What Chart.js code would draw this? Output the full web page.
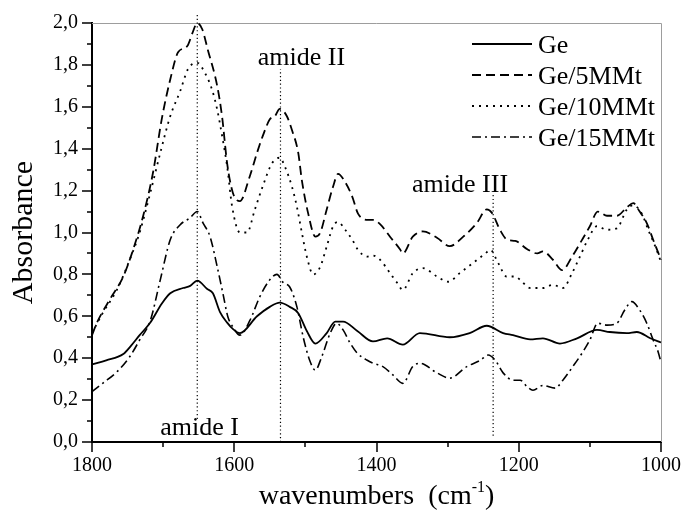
<!DOCTYPE html>
<html>
<head>
<meta charset="utf-8">
<title>Absorbance spectra</title>
<script src="https://cdn.jsdelivr.net/npm/chart.js@4.4.1/dist/chart.umd.min.js"></script>
<style>
  html, body { margin: 0; padding: 0; background: #fff; }
  #wrap { width: 681px; height: 518px; position: relative; }
</style>
</head>
<body>
<div id="wrap"><canvas id="spectra"></canvas></div>
<script>
// Ge (gelatin film)
const geWn  = [1800, 1780, 1756, 1745, 1733, 1718, 1702, 1690, 1672, 1662, 1652, 1638, 1630, 1620, 1610, 1602, 1592, 1568, 1550, 1536, 1522, 1510, 1498, 1486, 1470, 1458, 1447, 1427, 1405, 1385, 1363, 1339, 1297, 1269, 1245, 1222, 1208, 1184, 1166, 1142, 1118, 1090, 1072, 1048, 1034, 1015, 1000];
const geAbs = [0.37, 0.39, 0.42, 0.46, 0.51, 0.57, 0.66, 0.71, 0.735, 0.745, 0.77, 0.73, 0.71, 0.62, 0.57, 0.54, 0.52, 0.60, 0.645, 0.665, 0.645, 0.615, 0.53, 0.47, 0.52, 0.575, 0.575, 0.53, 0.48, 0.495, 0.465, 0.52, 0.50, 0.52, 0.555, 0.52, 0.51, 0.49, 0.495, 0.47, 0.495, 0.535, 0.525, 0.52, 0.525, 0.495, 0.475];

// Ge/5MMt
const ge5Wn  = [1800, 1793, 1775, 1756, 1742, 1728, 1714, 1702, 1690, 1679, 1666, 1659, 1652, 1645, 1637, 1624, 1617, 1610, 1602, 1592, 1578, 1568, 1560, 1550, 1543, 1536, 1526, 1519, 1510, 1505, 1496, 1486, 1479, 1470, 1461, 1454, 1444, 1434, 1426, 1412, 1405, 1395, 1381, 1367, 1363, 1349, 1335, 1315, 1297, 1278, 1259, 1245, 1238, 1226, 1216, 1205, 1188, 1174, 1166, 1152, 1139, 1125, 1111, 1100, 1089, 1076, 1062, 1048, 1039, 1030, 1020, 1011, 1000];
const ge5Abs = [0.51, 0.57, 0.68, 0.79, 0.92, 1.08, 1.29, 1.54, 1.73, 1.86, 1.89, 1.95, 2.0, 1.97, 1.87, 1.70, 1.55, 1.33, 1.19, 1.15, 1.27, 1.38, 1.46, 1.54, 1.555, 1.59, 1.555, 1.49, 1.38, 1.25, 1.09, 0.98, 1.0, 1.11, 1.22, 1.28, 1.24, 1.17, 1.09, 1.06, 1.06, 1.04, 0.98, 0.92, 0.90, 0.98, 1.005, 0.975, 0.935, 0.98, 1.045, 1.11, 1.095, 1.01, 0.965, 0.96, 0.92, 0.90, 0.91, 0.87, 0.82, 0.885, 0.965, 1.03, 1.10, 1.08, 1.08, 1.12, 1.14, 1.10, 1.045, 0.965, 0.87];

// Ge/10MMt
const ge10Wn  = [1800, 1785, 1765, 1747, 1733, 1718, 1704, 1690, 1676, 1665, 1652, 1641, 1631, 1624, 1617, 1610, 1603, 1592, 1582, 1571, 1560, 1547, 1536, 1529, 1519, 1512, 1505, 1498, 1489, 1479, 1470, 1461, 1454, 1444, 1434, 1426, 1413, 1405, 1395, 1381, 1371, 1363, 1349, 1335, 1315, 1299, 1283, 1264, 1247, 1240, 1229, 1217, 1205, 1198, 1184, 1166, 1152, 1138, 1125, 1114, 1103, 1090, 1076, 1062, 1048, 1039, 1027, 1018, 1008, 1000];
const ge10Abs = [0.52, 0.615, 0.726, 0.87, 1.0, 1.19, 1.38, 1.555, 1.675, 1.78, 1.81, 1.76, 1.68, 1.587, 1.46, 1.316, 1.124, 1.0, 1.0, 1.11, 1.22, 1.33, 1.357, 1.316, 1.22, 1.124, 1.0, 0.885, 0.80, 0.837, 0.933, 1.03, 1.05, 1.013, 0.965, 0.917, 0.885, 0.89, 0.87, 0.806, 0.76, 0.726, 0.806, 0.83, 0.79, 0.765, 0.806, 0.855, 0.90, 0.917, 0.855, 0.79, 0.79, 0.774, 0.735, 0.735, 0.75, 0.735, 0.806, 0.885, 0.965, 1.03, 1.013, 1.02, 1.11, 1.13, 1.09, 1.013, 0.933, 0.86];

// Ge/15MMt
const ge15Wn  = [1800, 1785, 1765, 1747, 1733, 1718, 1704, 1690, 1676, 1662, 1652, 1644, 1634, 1624, 1616, 1609, 1602, 1592, 1578, 1564, 1550, 1540, 1531, 1522, 1512, 1503, 1494, 1486, 1477, 1465, 1456, 1447, 1437, 1427, 1413, 1405, 1391, 1377, 1363, 1349, 1339, 1315, 1297, 1273, 1254, 1243, 1233, 1222, 1208, 1198, 1188, 1180, 1166, 1149, 1138, 1124, 1111, 1100, 1089, 1076, 1062, 1051, 1041, 1030, 1020, 1011, 1004, 1000];
const ge15Abs = [0.24, 0.28, 0.335, 0.407, 0.487, 0.58, 0.774, 0.965, 1.037, 1.07, 1.10, 1.046, 0.98, 0.837, 0.71, 0.598, 0.55, 0.51, 0.58, 0.694, 0.774, 0.80, 0.76, 0.74, 0.646, 0.50, 0.39, 0.343, 0.407, 0.52, 0.567, 0.535, 0.472, 0.424, 0.39, 0.376, 0.36, 0.32, 0.28, 0.36, 0.376, 0.33, 0.305, 0.36, 0.39, 0.415, 0.39, 0.33, 0.295, 0.295, 0.263, 0.247, 0.27, 0.257, 0.295, 0.36, 0.424, 0.487, 0.567, 0.558, 0.567, 0.63, 0.67, 0.63, 0.567, 0.487, 0.43, 0.38];

const seriesLabels = ['Ge', 'Ge/5MMt', 'Ge/10MMt', 'Ge/15MMt'];

// band markers: position, vertical extent and label anchor
const bandNames  = ['amide I', 'amide II', 'amide III'];
const bandWn     = [1652, 1535, 1236];
const bandTop    = [2.04, 1.78, 1.18];
const bandBottom = [0.11, 0.0, 0.03];
const bandTextWn  = [1704, 1567, 1350];
const bandTextAbs = [0.032, 1.80, 1.195];

// axis ticks
const xMajorTicks = [1800, 1600, 1400, 1200, 1000];
const xMinorTicks = [1700, 1500, 1300, 1100];
const yMajorTicks = [0, 0.2, 0.4, 0.6, 0.8, 1.0, 1.2, 1.4, 1.6, 1.8, 2.0];
const yMinorTicks = [0.1, 0.3, 0.5, 0.7, 0.9, 1.1, 1.3, 1.5, 1.7, 1.9];

const SERIF = '"Liberation Serif", "Times New Roman", serif';

function pts(wn, ab) {
  return wn.map((w, i) => ({ x: w, y: ab[i] }));
}

const lineStyles = [
  { dash: [], width: 1.8 },
  { dash: [9, 5], width: 1.8 },
  { dash: [2, 5], width: 1.8 },
  { dash: [9, 4, 2, 4], width: 1.6 }
];

const spectra = [
  pts(geWn, geAbs), pts(ge5Wn, ge5Abs), pts(ge10Wn, ge10Abs), pts(ge15Wn, ge15Abs)
].map((data, i) => ({
  label: seriesLabels[i],
  data: data,
  borderColor: '#000',
  borderWidth: lineStyles[i].width,
  borderDash: lineStyles[i].dash,
  borderCapStyle: 'butt',
  pointRadius: 0,
  fill: false,
  cubicInterpolationMode: 'monotone',
  clip: false
}));

const markers = bandWn.map((w, i) => ({
  label: '',
  isMarker: true,
  data: [{ x: w, y: bandBottom[i] }, { x: w, y: bandTop[i] }],
  borderColor: '#000',
  borderWidth: 1.2,
  borderDash: [1.2, 2.6],
  pointRadius: 0,
  fill: false,
  clip: false
}));

// grey top/right frame, outward ticks, titles, band labels and legend
const decorations = {
  id: 'decorations',
  beforeDatasetsDraw(chart) {
    const { ctx, chartArea: a } = chart;
    ctx.save();
    ctx.strokeStyle = '#9d9d9d';
    ctx.lineWidth = 1;
    ctx.beginPath();
    ctx.moveTo(a.left, a.top + 0.5);
    ctx.lineTo(a.right + 0.5, a.top + 0.5);
    ctx.lineTo(a.right + 0.5, a.bottom);
    ctx.stroke();
    ctx.restore();
  },
  afterDraw(chart) {
    const { ctx, chartArea: a, scales: { x, y } } = chart;
    ctx.save();

    // tick marks
    ctx.strokeStyle = '#000';
    ctx.lineWidth = 1.5;
    ctx.beginPath();
    xMajorTicks.forEach(v => { const px = Math.round(x.getPixelForValue(v)); ctx.moveTo(px, a.bottom); ctx.lineTo(px, a.bottom + 10); });
    xMinorTicks.forEach(v => { const px = Math.round(x.getPixelForValue(v)); ctx.moveTo(px, a.bottom); ctx.lineTo(px, a.bottom + 5); });
    yMajorTicks.forEach(v => { const py = Math.round(y.getPixelForValue(v)); ctx.moveTo(a.left, py); ctx.lineTo(a.left - 10, py); });
    yMinorTicks.forEach(v => { const py = Math.round(y.getPixelForValue(v)); ctx.moveTo(a.left, py); ctx.lineTo(a.left - 5, py); });
    ctx.stroke();

    ctx.fillStyle = '#000';

    // band labels
    ctx.font = '26px ' + SERIF;
    ctx.textAlign = 'left';
    ctx.textBaseline = 'alphabetic';
    bandNames.forEach((t, i) => {
      ctx.fillText(t, x.getPixelForValue(bandTextWn[i]), y.getPixelForValue(bandTextAbs[i]));
    });

    // x axis title with superscript
    const main = 'wavenumbers  (cm';
    const sup = '-1';
    ctx.font = '28px ' + SERIF;
    const wMain = ctx.measureText(main).width;
    const wClose = ctx.measureText(')').width;
    ctx.font = '16px ' + SERIF;
    const wSup = ctx.measureText(sup).width;
    let tx = (a.left + a.right) / 2 - (wMain + wSup + wClose) / 2;
    const base = 504;
    ctx.font = '28px ' + SERIF;
    ctx.fillText(main, tx, base);
    tx += wMain;
    ctx.font = '16px ' + SERIF;
    ctx.fillText(sup, tx, base - 12);
    tx += wSup;
    ctx.font = '28px ' + SERIF;
    ctx.fillText(')', tx, base);

    // y axis title
    ctx.save();
    ctx.translate(32, (a.top + a.bottom) / 2);
    ctx.rotate(-Math.PI / 2);
    ctx.font = '30px ' + SERIF;
    ctx.textAlign = 'center';
    ctx.fillText('Absorbance', 0, 0);
    ctx.restore();

    // legend
    const legendX = 472, legendLen = 60, legendTop = 44, legendStep = 31;
    chart.data.datasets.filter(d => !d.isMarker).forEach((d, i) => {
      const ly = legendTop + i * legendStep;
      ctx.save();
      ctx.strokeStyle = d.borderColor;
      ctx.lineWidth = d.borderWidth;
      ctx.setLineDash(d.borderDash);
      ctx.beginPath();
      ctx.moveTo(legendX, ly);
      ctx.lineTo(legendX + legendLen, ly);
      ctx.stroke();
      ctx.restore();
      ctx.font = '26px ' + SERIF;
      ctx.textAlign = 'left';
      ctx.fillText(d.label, legendX + legendLen + 6, ly + 9);
    });

    ctx.restore();
  }
};

new Chart(document.getElementById('spectra'), {
  type: 'line',
  data: { datasets: spectra.concat(markers) },
  options: {
    responsive: true,
    maintainAspectRatio: false,
    animation: false,
    events: [],
    layout: { padding: { top: 23, right: 20, left: 0, bottom: 0 } },
    plugins: {
      legend: { display: false },
      tooltip: { enabled: false }
    },
    scales: {
      x: {
        type: 'linear',
        reverse: true,
        min: 1000,
        max: 1800,
        afterBuildTicks: s => { s.ticks = xMajorTicks.map(v => ({ value: v })); },
        afterFit: s => { s.height = 76; s.paddingLeft = 0; s.paddingRight = 0; },
        grid: { display: false, drawTicks: false },
        border: { display: true, color: '#000', width: 2 },
        ticks: {
          color: '#000',
          padding: 12,
          maxRotation: 0,
          font: { family: SERIF, size: 20 },
          callback: v => String(v)
        }
      },
      y: {
        type: 'linear',
        min: 0,
        max: 2,
        afterBuildTicks: s => { s.ticks = yMajorTicks.map(v => ({ value: v })); },
        afterFit: s => { s.width = 92; s.paddingTop = 0; s.paddingBottom = 0; },
        grid: { display: false, drawTicks: false },
        border: { display: true, color: '#000', width: 2 },
        ticks: {
          color: '#000',
          padding: 14,
          font: { family: SERIF, size: 20 },
          callback: v => v.toFixed(1).replace('.', ',')
        }
      }
    }
  },
  plugins: [decorations]
});
</script>
</body>
</html>
